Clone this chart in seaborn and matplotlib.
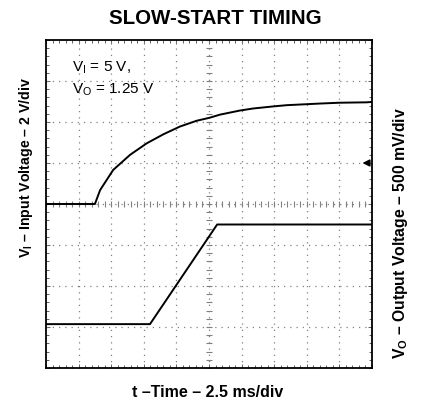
import numpy as np
import matplotlib
matplotlib.use("Agg")
import matplotlib.pyplot as plt
import seaborn as sns

# time axis in divisions (2.5 ms/div), voltages in screen divisions
t_in = [0, 1.50, 1.66, 2.06, 2.58, 3.09, 3.60, 4.11, 4.62, 5.00, 5.34, 5.95, 6.36, 6.97, 7.38, 8.40, 9.00, 9.84, 10.0]
v_in = [4.0, 4.0, 4.34, 4.83, 5.20, 5.48, 5.70, 5.89, 6.03, 6.10, 6.18, 6.28, 6.33, 6.38, 6.41, 6.45, 6.47, 6.48, 6.49]

t_out = [0, 3.19, 5.25, 10.0]
v_out = [1.07, 1.07, 3.50, 3.50]

n_xdiv = 10
n_ydiv = 8

sns.set_style("white")
plt.rcParams['font.family'] = ['Liberation Sans', 'DejaVu Sans']
plt.rcParams['text.color'] = 'black'
plt.rcParams['mathtext.fontset'] = 'custom'
plt.rcParams['mathtext.rm'] = 'Liberation Sans'
plt.rcParams['mathtext.bf'] = 'Liberation Sans:bold'

fig = plt.figure(figsize=(4.24, 4.03), dpi=100)
ax = fig.add_axes([46/424, 35/403, 326/424, 328/403])

# dotted graticule
dots = dict(color='#808080', lw=0.9, linestyle=(0, (1, 4)))
for i in range(1, n_xdiv):
    ax.axvline(i, **dots)
for j in range(1, n_ydiv):
    ax.axhline(j, **dots)

# centre lines with small cross ticks
cx, cy = n_xdiv / 2, n_ydiv / 2
ax.plot(np.arange(0, n_xdiv + 0.01, 0.2), np.full(51, cy), ls='none',
        marker='|', ms=4, mew=0.8, color='#808080')
ax.plot(np.full(41, cx), np.arange(0, n_ydiv + 0.01, 0.2), ls='none',
        marker='_', ms=4, mew=0.8, color='#808080')

sns.lineplot(x=t_in, y=v_in, ax=ax, color='black', lw=1.4, sort=False, estimator=None)
sns.lineplot(x=t_out, y=v_out, ax=ax, color='black', lw=1.4, sort=False, estimator=None)

ax.set_xlim(0, n_xdiv)
ax.set_ylim(0, n_ydiv)
ax.set_xticks(range(n_xdiv + 1))
ax.set_yticks(range(n_ydiv + 1))
ax.set_xticks(np.arange(0, n_xdiv, 0.2), minor=True)
ax.set_yticks(np.arange(0, n_ydiv, 0.2), minor=True)
ax.tick_params(which='both', direction='in', top=True, right=True, bottom=True, left=True,
               labelbottom=False, labelleft=False, color='#606060', width=0.7)
ax.tick_params(which='major', length=3)
ax.tick_params(which='minor', length=2)
for s in ax.spines.values():
    s.set_color('black')
    s.set_linewidth(1.3)

# trigger arrow on the right edge
ax.annotate('', xy=(0.962, 5 / 8), xytext=(0.998, 5 / 8), xycoords='axes fraction',
            arrowprops=dict(arrowstyle='-|>', color='black', lw=1.2, mutation_scale=10))

ax.text(0.08, 0.905, r'V$_\mathregular{I}$ = 5 V,', transform=ax.transAxes, fontsize=11)
ax.text(0.08, 0.838, r'V$_\mathregular{O}$ = 1.25 V', transform=ax.transAxes, fontsize=11)

en = '\u2013'
fig.text(0.507, 0.955, 'SLOW-START TIMING', ha='center', va='center',
         fontsize=14.8, fontweight='bold')
fig.text(0.49, 0.025, f't {en}Time {en} 2.5 ms/div', ha='center', va='center',
         fontsize=11.5, fontweight='bold')
fig.text(0.062, 0.585, r'V$_\mathbf{I}$' + f' {en} Input Voltage {en} 2 V/div',
         ha='center', va='center', rotation=90, fontsize=10.2, fontweight='bold')
fig.text(0.944, 0.422, r'V$_\mathbf{O}$' + f' {en} Output Voltage {en} 500 mV/div',
         ha='center', va='center', rotation=90, fontsize=11.3, fontweight='bold')

fig.savefig('out.png', dpi=100)
